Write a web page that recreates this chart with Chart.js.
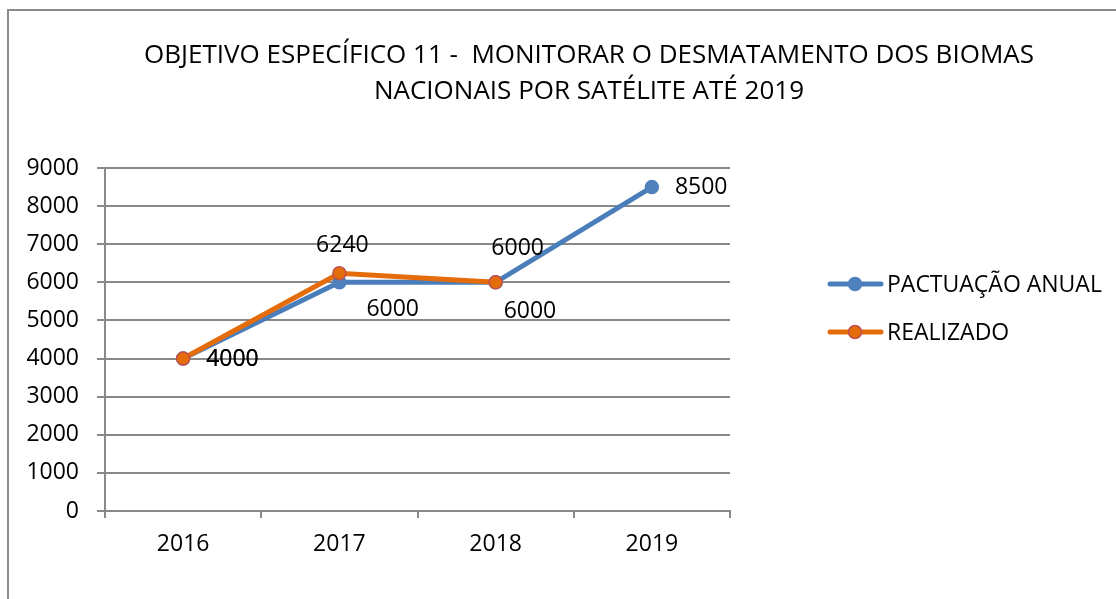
<!DOCTYPE html>
<html>
<head>
<meta charset="utf-8">
<script src="https://cdn.jsdelivr.net/npm/chart.js@4/dist/chart.umd.min.js"></script>
<style>
  html, body { margin: 0; padding: 0; background: #fff; overflow: hidden; }
  #wrap { width: 1116px; height: 599px; }
</style>
</head>
<body>
<div id="wrap"><canvas id="chart" width="1116" height="599"></canvas></div>
<script>
// chart data
const categories = ["2016", "2017", "2018", "2019"];
const pactuacao = [4000, 6000, 6000, 8500];
const realizado = [4000, 6240, 6000, null];
const seriesNames = ["PACTUAÇÃO ANUAL", "REALIZADO"];
const titleLines = ["OBJETIVO ESPECÍFICO 11 -  MONITORAR O DESMATAMENTO DOS BIOMAS", "NACIONAIS POR SATÉLITE ATÉ 2019"];
const yTicks = [0, 1000, 2000, 3000, 4000, 5000, 6000, 7000, 8000, 9000];

// where each data label sits relative to its point: [dx, dy, align]
const pactuacaoLabelPos = [[23, 1, "left"], [27, 27, "left"], [8, 29, "left"], [23, 0, "left"]];
const realizadoLabelPos = [[23, 1, "left"], [3, -28, "center"], [22, -34, "center"], null];

const FONT = "'Open Sans', sans-serif";
const BLUE = "#4a7ebb";
const BLUE_FILL = "#4f81bd";
const ORANGE = "#e46c0a";
const ORANGE_BORDER = "#c0504d";
const GRID = "#898989";

// draws border, title, data labels and legend (the Excel look)
const decorPlugin = {
  id: "decor",
  beforeDraw(chart) {
    const ctx = chart.ctx;
    ctx.save();
    ctx.fillStyle = "#fff";
    ctx.fillRect(0, 0, chart.width, chart.height);
    ctx.strokeStyle = "#8c8c8c";
    ctx.lineWidth = 2;
    ctx.beginPath();
    ctx.moveTo(8, chart.height);
    ctx.lineTo(8, 10);
    ctx.lineTo(chart.width, 10);
    ctx.stroke();

    ctx.fillStyle = "#000";
    ctx.font = "26px " + FONT;
    ctx.textAlign = "center";
    ctx.textBaseline = "middle";
    ctx.fillText(titleLines[0], 589, 56);
    ctx.fillText(titleLines[1], 589, 92);
    ctx.restore();
  },
  afterDatasetsDraw(chart) {
    const ctx = chart.ctx;
    ctx.save();
    ctx.font = "23px " + FONT;
    ctx.fillStyle = "#000";
    ctx.textBaseline = "middle";
    const positions = [pactuacaoLabelPos, realizadoLabelPos];
    chart.data.datasets.forEach((ds, di) => {
      const meta = chart.getDatasetMeta(di);
      meta.data.forEach((pt, i) => {
        const v = ds.data[i];
        const pos = positions[di][i];
        if (v === null || !pos) return;
        ctx.textAlign = pos[2];
        ctx.fillText(String(v), pt.x + pos[0], pt.y + pos[1]);
      });
    });

    // legend
    const items = [
      { y: 284, line: BLUE, fill: BLUE_FILL, border: BLUE_FILL },
      { y: 332, line: ORANGE, fill: ORANGE, border: ORANGE_BORDER },
    ];
    items.forEach((it, i) => {
      ctx.strokeStyle = it.line;
      ctx.lineWidth = 5;
      ctx.lineCap = "round";
      ctx.beginPath();
      ctx.moveTo(830, it.y);
      ctx.lineTo(881, it.y);
      ctx.stroke();
      ctx.beginPath();
      ctx.arc(855, it.y, 6.5, 0, Math.PI * 2);
      ctx.fillStyle = it.fill;
      ctx.fill();
      ctx.lineWidth = 1.5;
      ctx.strokeStyle = it.border;
      ctx.stroke();
      ctx.fillStyle = "#000";
      ctx.textAlign = "left";
      ctx.fillText(seriesNames[i], 887, it.y + 1);
    });
    ctx.restore();
  },
};

new Chart(document.getElementById("chart"), {
  type: "line",
  data: {
    labels: categories,
    datasets: [
      {
        label: seriesNames[0],
        data: pactuacao,
        borderColor: BLUE,
        backgroundColor: BLUE_FILL,
        pointBackgroundColor: BLUE_FILL,
        pointBorderColor: BLUE_FILL,
        borderWidth: 5,
        pointRadius: 6.5,
        pointBorderWidth: 1.5,
        tension: 0,
        order: 1,
      },
      {
        label: seriesNames[1],
        data: realizado,
        borderColor: ORANGE,
        backgroundColor: ORANGE,
        pointBackgroundColor: ORANGE,
        pointBorderColor: ORANGE_BORDER,
        borderWidth: 5,
        pointRadius: 6.5,
        pointBorderWidth: 1.5,
        tension: 0,
        order: 0,
      },
    ],
  },
  options: {
    responsive: false,
    animation: false,
    events: [],
    layout: { padding: { top: 168, right: 386, bottom: 28, left: 0 } },
    plugins: {
      legend: { display: false },
      title: { display: false },
      tooltip: { enabled: false },
    },
    scales: {
      x: {
        offset: true,
        grid: {
          offset: true,
          drawOnChartArea: false,
          drawTicks: true,
          tickLength: 7,
          color: GRID,
          lineWidth: 2,
        },
        border: { color: GRID, width: 2 },
        ticks: { color: "#000", font: { family: FONT, size: 23 }, padding: 13 },
        afterFit(scale) { scale.height = 60; },
      },
      y: {
        min: 0,
        max: 9000,
        afterBuildTicks(scale) { scale.ticks = yTicks.map(v => ({ value: v })); },
        grid: { color: GRID, lineWidth: 2, tickLength: 8 },
        border: { color: GRID, width: 2 },
        ticks: {
          color: "#000",
          font: { family: FONT, size: 23 },
          padding: 18,
          callback: (v) => String(v),
        },
        afterFit(scale) { scale.width = 105; },
      },
    },
  },
  plugins: [decorPlugin],
});
</script>
</body>
</html>
